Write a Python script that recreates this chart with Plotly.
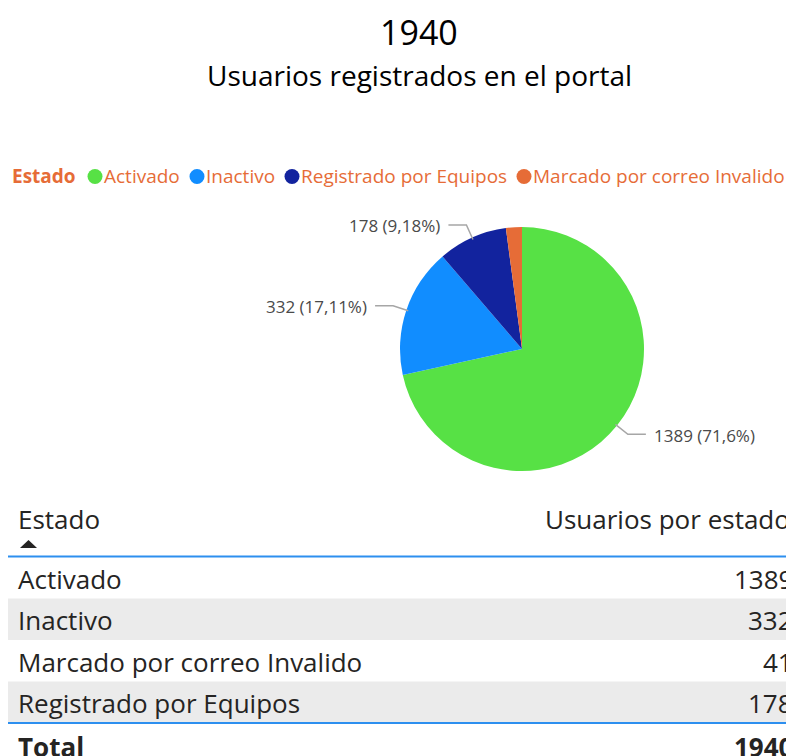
import math
import plotly.graph_objects as go

# Datos del informe
estados = ["Activado", "Inactivo", "Registrado por Equipos", "Marcado por correo Invalido"]
usuarios = [1389, 332, 178, 41]
colores = ["#57E145", "#118DFF", "#12239E", "#E66C37"]

titulo_sub = "Usuarios registrados en el portal"
titulo_leyenda = "Estado"
encabezado_estado = "Estado"
encabezado_valor = "Usuarios por estado"

total = sum(usuarios)

W, H = 786, 756
FUENTE = "Open Sans, sans-serif"
TEXTO = "#252423"
NARANJA = "#E66C37"
AZUL_LINEA = "#2D8FEF"

# posiciones (px) de los marcadores de la leyenda
LEYENDA_X = [95, 197, 292, 524]
LEYENDA_Y = 176


def px(x):
    return x / W


def py(y):
    return 1 - y / H


def fmt_pct(v):
    s = f"{100 * v / total:.2f}".rstrip("0").rstrip(".")
    return s.replace(".", ",") + "%"


fig = go.Figure()

# Gráfico circular
cx, cy, R = 522, 349, 122
fig.add_trace(go.Pie(
    labels=estados,
    values=usuarios,
    marker=dict(colors=colores, line=dict(width=0)),
    sort=False,
    direction="clockwise",
    rotation=0,
    textinfo="none",
    hoverinfo="label+value+percent",
    showlegend=False,
    domain=dict(x=[px(cx - R), px(cx + R)], y=[py(cy + R), py(cy - R)]),
))

annotations = []
shapes = []

# Etiquetas de datos con líneas guía
acum = 0
for est, v in zip(estados, usuarios):
    theta = 2 * math.pi * (acum + v / 2) / total
    acum += v
    if v / total < 0.05:
        continue
    s, c = math.sin(theta), math.cos(theta)
    x0, y0 = cx + (R - 2) * s, cy - (R - 2) * c
    x1, y1 = cx + (R + 14) * s, cy - (R + 14) * c
    lado = 1 if s > 0 else -1
    x2 = x1 + lado * 18
    shapes.append(dict(
        type="path", xref="paper", yref="paper",
        path=f"M {px(x0)},{py(y0)} L {px(x1)},{py(y1)} L {px(x2)},{py(y1)}",
        line=dict(color="#A6A6A6", width=1.5),
    ))
    annotations.append(dict(
        x=px(x2 + lado * 6), y=py(y1 + 1), xref="paper", yref="paper",
        xanchor="left" if lado > 0 else "right", yanchor="middle",
        text=f"{v} ({fmt_pct(v)})", showarrow=False,
        font=dict(family=FUENTE, size=17, color="#4A4A4A"),
    ))

# Títulos
annotations.append(dict(
    x=px(419), y=py(32), xref="paper", yref="paper", xanchor="center", yanchor="middle",
    text=str(total), showarrow=False, font=dict(family=FUENTE, size=34, color="#000000"),
))
annotations.append(dict(
    x=px(419), y=py(75), xref="paper", yref="paper", xanchor="center", yanchor="middle",
    text=titulo_sub, showarrow=False, font=dict(family=FUENTE, size=28, color="#000000"),
))

# Leyenda
annotations.append(dict(
    x=px(10), y=py(LEYENDA_Y), xref="paper", yref="paper", xanchor="left", yanchor="middle",
    text=f"<b>{titulo_leyenda}</b>", showarrow=False,
    font=dict(family=FUENTE, size=19, color=NARANJA),
))
for est, col, lx in zip(estados, colores, LEYENDA_X):
    shapes.append(dict(
        type="circle", xref="paper", yref="paper",
        x0=px(lx - 7.5), x1=px(lx + 7.5), y0=py(LEYENDA_Y + 8), y1=py(LEYENDA_Y - 7),
        fillcolor=col, line=dict(width=0),
    ))
    annotations.append(dict(
        x=px(lx + 7), y=py(LEYENDA_Y), xref="paper", yref="paper", xanchor="left", yanchor="middle",
        text=est, showarrow=False, font=dict(family=FUENTE, size=19, color=NARANJA),
    ))

# Tabla
filas = sorted(zip(estados, usuarios), key=lambda t: t[0])
fila_y0, fila_h = 557, 41.5
x_izq, x_txt, x_val = 8, 16, 795
FS = 26

annotations.append(dict(
    x=px(x_txt), y=py(519), xref="paper", yref="paper", xanchor="left", yanchor="middle",
    text=encabezado_estado, showarrow=False, font=dict(family=FUENTE, size=FS, color=TEXTO),
))
annotations.append(dict(
    x=px(x_val - 3), y=py(519), xref="paper", yref="paper", xanchor="right", yanchor="middle",
    text=encabezado_valor, showarrow=False, font=dict(family=FUENTE, size=FS, color=TEXTO),
))
# indicador de orden ascendente
shapes.append(dict(
    type="path", xref="paper", yref="paper",
    path=f"M {px(20)},{py(548)} L {px(37)},{py(548)} L {px(28.5)},{py(540)} Z",
    fillcolor=TEXTO, line=dict(width=0),
))

for i, (est, v) in enumerate(filas):
    top = fila_y0 + i * fila_h
    if i % 2 == 1:
        shapes.append(dict(
            type="rect", xref="paper", yref="paper",
            x0=px(x_izq), x1=1, y0=py(top + fila_h), y1=py(top),
            fillcolor="#EBEBEB", line=dict(width=0), layer="below",
        ))
    yc = top + fila_h / 2 + 1
    annotations.append(dict(
        x=px(x_txt), y=py(yc), xref="paper", yref="paper", xanchor="left", yanchor="middle",
        text=est, showarrow=False, font=dict(family=FUENTE, size=FS, color=TEXTO),
    ))
    annotations.append(dict(
        x=px(x_val), y=py(yc), xref="paper", yref="paper", xanchor="right", yanchor="middle",
        text=str(v), showarrow=False, font=dict(family=FUENTE, size=FS, color=TEXTO),
    ))

fila_total = fila_y0 + len(filas) * fila_h
for yl in (556.5, fila_total):
    shapes.append(dict(
        type="line", xref="paper", yref="paper",
        x0=px(x_izq), x1=1, y0=py(yl), y1=py(yl),
        line=dict(color=AZUL_LINEA, width=2),
    ))

annotations.append(dict(
    x=px(x_txt), y=py(fila_total + 24), xref="paper", yref="paper", xanchor="left", yanchor="middle",
    text="<b>Total</b>", showarrow=False, font=dict(family=FUENTE, size=FS, color=TEXTO),
))
annotations.append(dict(
    x=px(x_val), y=py(fila_total + 24), xref="paper", yref="paper", xanchor="right", yanchor="middle",
    text=f"<b>{total}</b>", showarrow=False, font=dict(family=FUENTE, size=FS, color=TEXTO),
))

fig.update_layout(
    width=W, height=H,
    margin=dict(l=0, r=0, t=0, b=0),
    paper_bgcolor="white", plot_bgcolor="white",
    annotations=annotations, shapes=shapes,
)

fig.write_html("out.html")
